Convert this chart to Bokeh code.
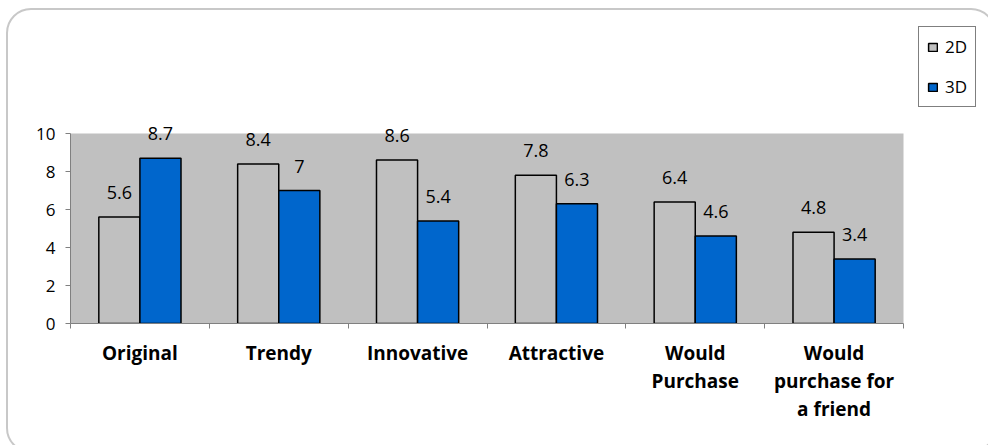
import numpy as np
from bokeh.plotting import figure
from bokeh.models import (Range1d, FixedTicker, ColumnDataSource, LabelSet, Legend,
                          LegendItem)
from bokeh.core.properties import value
from bokeh.embed import file_html
from bokeh.resources import INLINE

categories = ["Original", "Trendy", "Innovative", "Attractive", "Would Purchase",
              "Would purchase for a friend"]
tick_labels = ["Original", "Trendy", "Innovative", "Attractive", "Would\nPurchase",
               "Would\npurchase for\na friend"]
values_2d = [5.6, 8.4, 8.6, 7.8, 6.4, 4.8]
values_3d = [8.7, 7.0, 5.4, 6.3, 4.6, 3.4]
labels_2d = ["5.6", "8.4", "8.6", "7.8", "6.4", "4.8"]
labels_3d = ["8.7", "7", "5.4", "6.3", "4.6", "3.4"]
y_ticks = [0, 2, 4, 6, 8, 10]
y_max = 10

FONT = "Open Sans"
n = len(categories)
idx = np.arange(n)
centers = idx + 0.5
bw = 0.296
off = 0.148

# layout (pixels): plot area 70..903 x 133..323, frame extended to the top/right
W, H = 988, 445
area_l, area_r, area_t, area_b = 70, 903, 133, 323
frame_r, frame_t = 985, 8
x_end = n * (frame_r - area_l) / (area_r - area_l)
y_end = y_max * (area_b - frame_t) / (area_b - area_t)

src2 = ColumnDataSource(dict(x=centers - off, top=values_2d, lab=labels_2d))
src3 = ColumnDataSource(dict(x=centers + off, top=values_3d, lab=labels_3d))

p = figure(width=W, height=H, output_backend="svg", toolbar_location=None,
           x_range=Range1d(0, x_end), y_range=Range1d(0, y_end))
p.min_border = 0
p.min_border_left = area_l
p.min_border_right = W - frame_r
p.min_border_top = frame_t
p.min_border_bottom = H - area_b
p.background_fill_color = "white"
p.border_fill_color = "white"
p.outline_line_color = None
p.grid.visible = False

# grey plot area
p.quad(left=0, right=n, bottom=0, top=y_max, fill_color="#C0C0C0", line_color=None)

r2 = p.vbar(x="x", top="top", width=bw, source=src2, fill_color="#C0C0C0",
            line_color="black", line_width=1.5)
r3 = p.vbar(x="x", top="top", width=bw, source=src3, fill_color="#0066CC",
            line_color="black", line_width=1.5)

for s in (src2, src3):
    p.add_layout(LabelSet(x="x", y="top", text="lab", source=s, y_offset=18,
                          text_align="center", text_baseline="alphabetic",
                          text_font=value(FONT), text_font_size="18px",
                          text_color="black"))

# x axis: labels at category centres, tick marks at boundaries
xa = p.xaxis[0]
xa.bounds = (0, n)
xa.ticker = FixedTicker(ticks=list(centers), minor_ticks=list(range(n + 1)))
xa.major_label_overrides = {float(c): t for c, t in zip(centers, tick_labels)}
xa.major_tick_line_color = None
xa.major_tick_out = 0
xa.major_tick_in = 0
xa.minor_tick_line_color = "#808080"
xa.minor_tick_out = 5
xa.minor_tick_in = 0
xa.axis_line_color = "#808080"
xa.major_label_text_font = FONT
xa.major_label_text_font_style = "bold"
xa.major_label_text_font_size = "19px"
xa.major_label_text_color = "black"
xa.major_label_text_line_height = 1.08
xa.major_label_standoff = 11
xa.major_label_orientation = "horizontal"

ya = p.yaxis[0]
ya.bounds = (0, y_max)
ya.ticker = FixedTicker(ticks=y_ticks)
ya.minor_tick_line_color = None
ya.major_tick_out = 5
ya.major_tick_in = 0
ya.major_tick_line_color = "#808080"
ya.axis_line_color = "#808080"
ya.major_label_text_font = FONT
ya.major_label_text_font_size = "17px"
ya.major_label_text_color = "black"
ya.major_label_standoff = 10

legend = Legend(items=[LegendItem(label="2D", renderers=[r2]),
                       LegendItem(label="3D", renderers=[r3])],
                location=(918 - area_l, area_b - 107))
legend.border_line_color = "black"
legend.border_line_width = 1
legend.background_fill_color = "white"
legend.background_fill_alpha = 1
legend.label_text_font = FONT
legend.label_text_font_size = "17px"
legend.label_text_color = "black"
legend.glyph_width = 11
legend.glyph_height = 10
legend.label_standoff = 7
legend.label_height = 20
legend.spacing = 17
legend.padding = 8
legend.margin = 0
p.add_layout(legend)

# rounded outer border of the chart (runs off the right and bottom edges)
p.stylesheets = [""":host { position: relative; overflow: hidden; }
:host::after { content: ""; position: absolute; left: 6px; top: 8px;
  width: 990px; height: 445px; border: 2px solid #C8C8C8; border-radius: 25px;
  box-sizing: border-box; pointer-events: none; }"""]

open("out.html", "w").write(file_html(p, INLINE))
